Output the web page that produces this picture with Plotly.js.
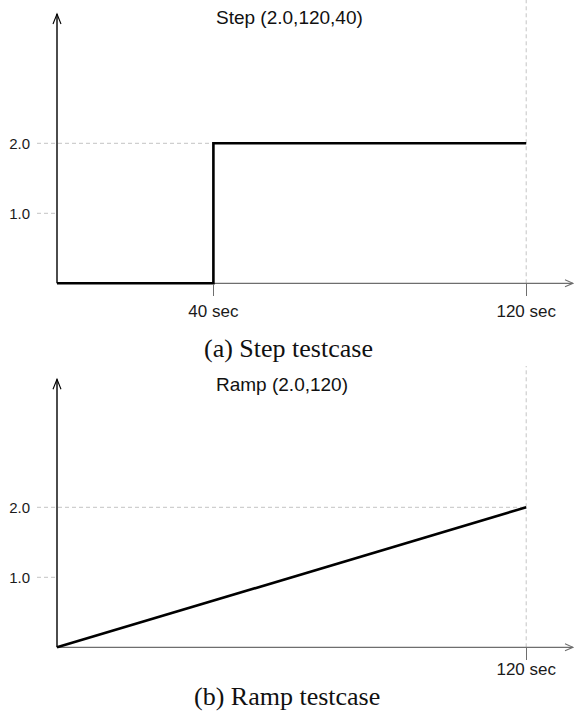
<!DOCTYPE html>
<html>
<head>
<meta charset="utf-8">
<script src="https://cdn.plot.ly/plotly-3.0.1.min.js"></script>
<style>
html, body { margin: 0; padding: 0; background: #fff; }
#chart { width: 574px; height: 725px; }
</style>
</head>
<body>
<div id="chart"></div>
<script>
// ---- data ----
// Step testcase: amplitude 2.0, duration 120 s, step at 40 s
const stepTime = [0, 40, 120];
const stepValue = [0, 2.0, 2.0];
// Ramp testcase: amplitude 2.0, duration 120 s
const rampTime = [0, 120];
const rampValue = [0, 2.0];

const yTickVals = [1.0, 2.0];
const yTickText = ['1.0', '2.0'];
const stepXTickVals = [40, 120];
const stepXTickText = ['40 sec', '120 sec'];
const rampXTickVals = [120];
const rampXTickText = ['120 sec'];

const panelTitles = ['Step (2.0,120,40)', 'Ramp (2.0,120)'];
const captions = ['(a) Step testcase', '(b) Ramp testcase'];

// ---- layout helpers (pixel geometry of the figure) ----
const W = 574, H = 725;
const SANS = 'Liberation Sans, Arial, Helvetica, sans-serif';
const SERIF = 'Liberation Serif, Times New Roman, Times, serif';
const pxX = 3.91;   // px per second
const pxY = 70;     // px per unit
const originX = 57; // pixel of t = 0
const xLeft = 37;
const xMin = -(originX - xLeft) / pxX;
const xMax = (W - originX) / pxX;
const xArrowEnd = (573 - originX) / pxX;

const topOrigin = 283.3, topDomTop = 0, topDomBot = 296;
const botOrigin = 647.3, botDomTop = 366, botDomBot = 660;

const yr1 = [-(topDomBot - topOrigin) / pxY, (topOrigin - topDomTop) / pxY];
const yr2 = [-(botDomBot - botOrigin) / pxY, (botOrigin - botDomTop) / pxY];
const yTip1 = (topOrigin - 14) / pxY;
const yTip2 = (botOrigin - 379.3) / pxY;

const gridLine = { color: '#c4c4c4', width: 1, dash: '4px,3px' };

function panelShapes(xref, yref, yRange, yTip, level, cornerT, endT) {
  return [
    // dashed projection lines
    { type: 'line', xref, yref, layer: 'below', x0: xMin, x1: cornerT, y0: level, y1: level, line: gridLine },
    { type: 'line', xref, yref, layer: 'below', x0: xMin, x1: 0, y0: yTickVals[0], y1: yTickVals[0], line: gridLine },
    { type: 'line', xref, yref, layer: 'below', x0: endT, x1: endT, y0: 0, y1: yRange[1], line: gridLine },
    // axis lines
    { type: 'line', xref, yref, layer: 'below', x0: 0, x1: xArrowEnd, y0: 0, y1: 0, line: { color: '#6e6e6e', width: 1.3 } },
    { type: 'line', xref, yref, layer: 'below', x0: 0, x1: 0, y0: 0, y1: yTip, line: { color: '#000', width: 1.4 } },
    // arrow heads
    { type: 'path', xref, yref, layer: 'below', xsizemode: 'pixel', ysizemode: 'pixel',
      xanchor: 0, yanchor: yTip, path: 'M-4,-10L0,0L4,-10', line: { color: '#000', width: 1.1 } },
    { type: 'path', xref, yref, layer: 'below', xsizemode: 'pixel', ysizemode: 'pixel',
      xanchor: xArrowEnd, yanchor: 0, path: 'M-8,3.5L0,0L-8,-3.5', line: { color: '#6e6e6e', width: 1.1 } }
  ];
}

const traces = [
  { x: stepTime, y: stepValue, xaxis: 'x', yaxis: 'y', mode: 'lines', line: { shape: 'hv', color: '#000', width: 2.6 }, hoverinfo: 'skip' },
  { x: rampTime, y: rampValue, xaxis: 'x2', yaxis: 'y2', mode: 'lines', line: { color: '#000', width: 2.6 }, hoverinfo: 'skip' }
];

function xAxis(pos, vals, text, standoff) {
  return {
    domain: [xLeft / W, 1], range: [xMin, xMax], anchor: 'free', position: 1 - pos / H,
    showgrid: false, zeroline: false, showline: false,
    ticks: 'outside', ticklen: 12, tickwidth: 1.3, tickcolor: '#6e6e6e',
    tickmode: 'array', tickvals: vals, ticktext: text, ticklabelstandoff: standoff,
    tickfont: { family: SANS, size: 17, color: '#1a1a1a' }, fixedrange: true
  };
}
function yAxis(dom, range, anchor) {
  return {
    domain: dom, range: range, anchor: anchor,
    showgrid: false, zeroline: false, showline: false, ticks: '',
    tickmode: 'array', tickvals: yTickVals, ticktext: yTickText, ticklabelstandoff: 6,
    tickfont: { family: SANS, size: 15, color: '#1a1a1a' }, fixedrange: true
  };
}

const layout = {
  width: W, height: H,
  margin: { l: 0, r: 0, t: 0, b: 0, pad: 0 },
  paper_bgcolor: '#fff', plot_bgcolor: 'rgba(0,0,0,0)',
  showlegend: false,
  xaxis: xAxis(topOrigin, stepXTickVals, stepXTickText, 0),
  yaxis: yAxis([1 - topDomBot / H, 1 - topDomTop / H], yr1, 'x'),
  xaxis2: xAxis(botOrigin, rampXTickVals, rampXTickText, -6),
  yaxis2: yAxis([1 - botDomBot / H, 1 - botDomTop / H], yr2, 'x2'),
  shapes: [].concat(
    panelShapes('x', 'y', yr1, yTip1, stepValue[1], stepTime[1], stepTime[2]),
    panelShapes('x2', 'y2', yr2, yTip2, rampValue[1], rampTime[1], rampTime[1])
  ),
  annotations: [
    { text: panelTitles[0], xref: 'paper', yref: 'paper', x: 214 / W, y: 1 - 18 / H, xanchor: 'left', yanchor: 'middle',
      showarrow: false, font: { family: SANS, size: 19, color: '#111' } },
    { text: panelTitles[1], xref: 'paper', yref: 'paper', x: 214 / W, y: 1 - 384 / H, xanchor: 'left', yanchor: 'middle',
      showarrow: false, font: { family: SANS, size: 19, color: '#111' } },
    { text: captions[0], xref: 'paper', yref: 'paper', x: 288 / W, y: 1 - 348.5 / H, xanchor: 'center', yanchor: 'middle',
      showarrow: false, font: { family: SERIF, size: 26, color: '#111' } },
    { text: captions[1], xref: 'paper', yref: 'paper', x: 287 / W, y: 1 - 696 / H, xanchor: 'center', yanchor: 'middle',
      showarrow: false, font: { family: SERIF, size: 26, color: '#111' } }
  ]
};

Plotly.newPlot('chart', traces, layout, { staticPlot: true, displayModeBar: false });
</script>
</body>
</html>
